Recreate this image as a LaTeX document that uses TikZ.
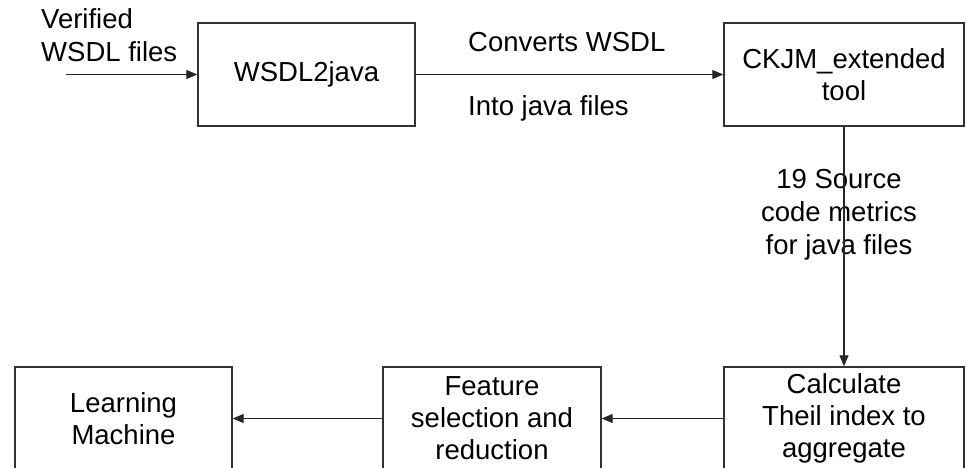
\documentclass[tikz,border=0pt]{standalone}
\usepackage{fontspec}
\setmainfont{Liberation Sans}
\usetikzlibrary{arrows.meta}
\begin{document}
\begin{tikzpicture}[x=1pt,y=-1pt,
  box/.style={draw=black!80, line width=1.4pt, inner sep=0pt, font=\fontsize{27.5}{32}\selectfont, align=center},
  lbl/.style={inner sep=0pt, font=\fontsize{27.5}{33}\selectfont},
  conn/.style={draw=black!85, line width=1.1pt, -{Stealth[length=11pt,width=9pt,inset=0pt]}}]
\useasboundingbox (0,0) rectangle (966,467);
\clip (0,0) rectangle (966,467);
% boxes
\node[box, minimum width=217pt, minimum height=103pt] (w2j) at (306.5,74.5) {WSDL2java};
\node[box, minimum width=240pt, minimum height=103pt] (ckjm) at (844,74.5) {CKJM\_extended\\tool};
\node[box, minimum width=217pt, minimum height=103pt] (learn) at (123.5,418.5) {Learning\\Machine};
\node[box, minimum width=218pt, minimum height=103pt] (feat) at (492,418.5) {Feature\\selection and\\reduction};
\node[box, minimum width=240pt, minimum height=103pt] (calc) at (844,418.5) {Calculate\\Theil index to\\aggregate};
% labels
\node[lbl, align=left, anchor=west] (ver) at (41,35) {Verified\\WSDL files};
\node[lbl, anchor=west] (conv) at (468,42) {Converts WSDL};
\node[lbl, anchor=west] (into) at (468,108) {Into java files};
\node[lbl, align=center] (src) at (839,215) {19 Source\\code metrics\\for java files};
\coordinate (in) at (66,74.5);
% connectors
\draw[conn] (in) -- (w2j.west);
\draw[conn] (w2j.east) -- (ckjm.west);
\draw[conn] (ckjm.south) -- (calc.north);
\draw[conn] (calc.west) -- (feat.east);
\draw[conn] (feat.west) -- (learn.east);
\end{tikzpicture}
\end{document}
